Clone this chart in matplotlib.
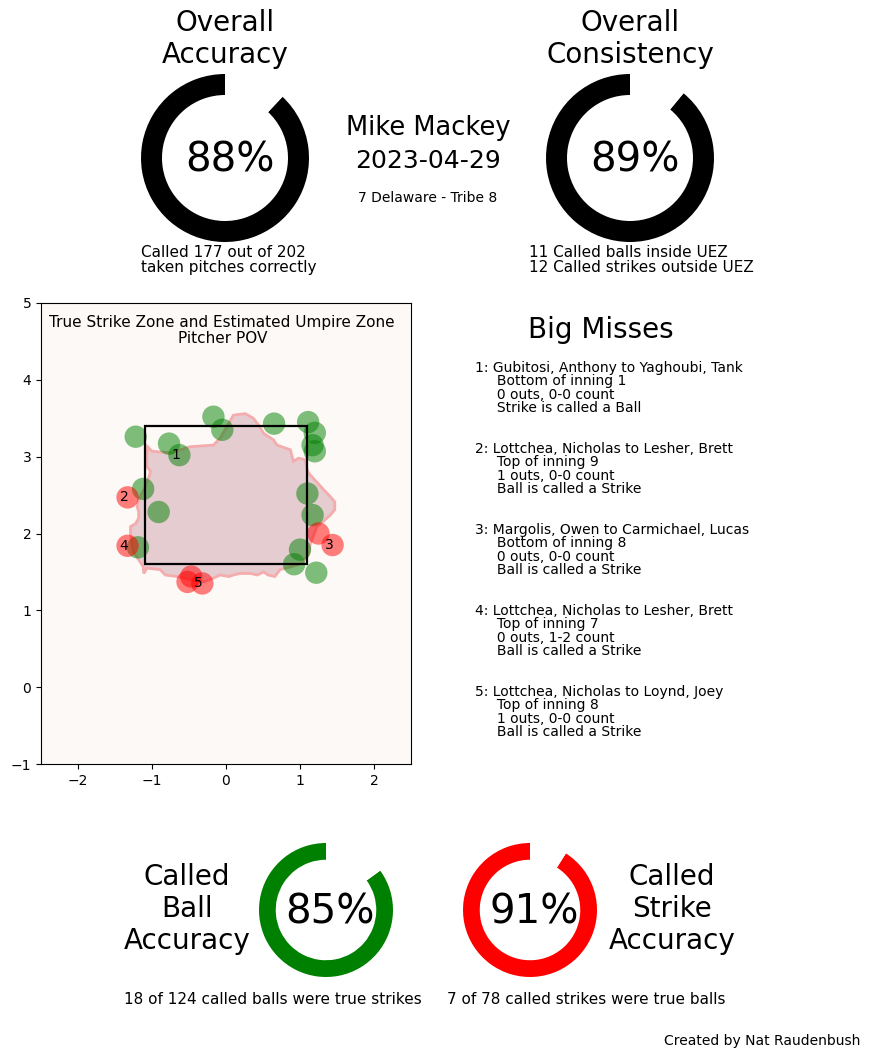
import matplotlib.pyplot as plt
from matplotlib.patches import Rectangle, Polygon

W, H = 869, 1058

# summary numbers
umpire = "Mike Mackey"
game_date = "2023-04-29"
score_line = "7 Delaware - Tribe 8"
overall_acc = 88
overall_cons = 89
ball_acc = 85
strike_acc = 91

# taken pitches that were missed: green = called ball, red = called strike
ball_x = [-0.17, -0.05, 0.65, 1.11, 1.20, 1.17, 1.20, -1.22, -0.77, -0.63,
          -1.12, -0.91, 1.10, 1.17, -1.19, 1.00, 0.92, 1.22]
ball_y = [3.52, 3.35, 3.43, 3.45, 3.31, 3.15, 3.07, 3.26, 3.17, 3.02,
          2.58, 2.28, 2.52, 2.24, 1.82, 1.79, 1.60, 1.49]
strike_x = [-1.33, -1.33, 1.25, 1.44, -0.47, -0.52, -0.32]
strike_y = [2.47, 1.84, 2.00, 1.85, 1.44, 1.37, 1.35]

# big misses (numbered on the plot)
miss_x = [-0.63, -1.33, 1.44, -1.33, -0.32]
miss_y = [3.02, 2.47, 1.85, 1.84, 1.35]
miss_text = [
    "1: Gubitosi, Anthony to Yaghoubi, Tank\n     Bottom of inning 1\n     0 outs, 0-0 count\n     Strike is called a Ball",
    "2: Lottchea, Nicholas to Lesher, Brett\n     Top of inning 9\n     1 outs, 0-0 count\n     Ball is called a Strike",
    "3: Margolis, Owen to Carmichael, Lucas\n     Bottom of inning 8\n     0 outs, 0-0 count\n     Ball is called a Strike",
    "4: Lottchea, Nicholas to Lesher, Brett\n     Top of inning 7\n     0 outs, 1-2 count\n     Ball is called a Strike",
    "5: Lottchea, Nicholas to Loynd, Joey\n     Top of inning 8\n     1 outs, 0-0 count\n     Ball is called a Strike",
]

# estimated umpire zone outline
uez_x = [-1.06, -1.00, -0.75, -0.48, -0.17, -0.08, 0.10, 0.26, 0.37, 0.44,
         0.51, 0.64, 0.69, 0.87, 0.91, 0.98, 1.07, 1.10, 1.14, 1.32,
         1.41, 1.47, 1.47, 1.41, 1.34, 1.23, 1.14, 1.11, 1.02, 0.89,
         0.73, 0.66, 0.57, 0.51, 0.42, 0.33, 0.19, 0.10, 0.04, -0.08,
         -0.17, -0.30, -0.48, -0.66, -0.82, -0.89, -1.07, -1.11, -1.12, -1.18,
         -1.25, -1.29, -1.29, -1.22, -1.18, -1.18, -1.20, -1.18, -1.09, -1.04,
         -1.02, -1.07, -1.07]
uez_y = [3.13, 3.07, 3.05, 3.13, 3.15, 3.24, 3.54, 3.56, 3.50, 3.41,
         3.30, 3.22, 3.15, 3.09, 2.94, 2.98, 2.96, 2.81, 2.76, 2.57,
         2.48, 2.41, 2.31, 2.24, 2.18, 2.09, 1.87, 1.72, 1.61, 1.57,
         1.53, 1.44, 1.46, 1.50, 1.46, 1.48, 1.48, 1.46, 1.44, 1.46,
         1.42, 1.37, 1.40, 1.44, 1.46, 1.53, 1.55, 1.48, 1.57, 1.66,
         1.76, 2.00, 2.09, 2.13, 2.20, 2.28, 2.35, 2.44, 2.61, 2.74,
         2.81, 2.87, 3.00]

# true strike zone
sz_left, sz_right, sz_bot, sz_top = -1.1, 1.1, 1.6, 3.4


def box(x0, y0, x1, y1):
    # pixel box (top-left origin) -> figure fraction rect
    return [x0 / W, 1 - y1 / H, (x1 - x0) / W, (y1 - y0) / H]


def donut(rect, pct, color, size=29):
    ax = fig.add_axes(rect)
    ax.pie([pct, 100 - pct], colors=[color, 'white'], startangle=90,
           counterclock=True, wedgeprops=dict(width=0.25))
    ax.set_xlim(-1, 1)
    ax.set_ylim(-1, 1)
    ax.set_aspect('equal')
    ax.text(0.06, -0.03, f"{pct}%", ha='center', va='center', fontsize=size)
    return ax


fig = plt.figure(figsize=(W / 100, H / 100), dpi=100)

# top row
fig.text(225 / W, 1 - 39 / H, "Overall\nAccuracy", ha='center', va='center', fontsize=20, linespacing=1.2)
donut(box(141, 74, 309, 242), overall_acc, 'black')
fig.text(141 / W, 1 - 260 / H, "Called 177 out of 202\ntaken pitches correctly",
         ha='left', va='center', fontsize=11, linespacing=1.0)

fig.text(428 / W, 1 - 128 / H, umpire, ha='center', va='center', fontsize=18.5)
fig.text(428 / W, 1 - 161 / H, game_date, ha='center', va='center', fontsize=18)
fig.text(428 / W, 1 - 198 / H, score_line, ha='center', va='center', fontsize=10)

fig.text(630 / W, 1 - 39 / H, "Overall\nConsistency", ha='center', va='center', fontsize=20, linespacing=1.2)
donut(box(546, 74, 714, 242), overall_cons, 'black')
fig.text(529 / W, 1 - 260 / H, "11 Called balls inside UEZ\n12 Called strikes outside UEZ",
         ha='left', va='center', fontsize=11, linespacing=1.0)

# strike zone plot
ax = fig.add_axes(box(41, 303, 411, 764))
ax.set_facecolor('#fdf9f6')
ax.add_patch(Polygon(list(zip(uez_x, uez_y)), closed=True, facecolor='#e5ccd1',
                     edgecolor='#f4acac', linewidth=2, zorder=1))
ax.add_patch(Rectangle((sz_left, sz_bot), sz_right - sz_left, sz_top - sz_bot,
                       fill=False, edgecolor='black', linewidth=1.6, zorder=3))
ax.scatter(ball_x, ball_y, s=260, color='green', alpha=0.5, edgecolors='none', zorder=2)
ax.scatter(strike_x, strike_y, s=260, color='red', alpha=0.5, edgecolors='none', zorder=2)
for i, (mx, my) in enumerate(zip(miss_x, miss_y)):
    ax.text(mx - 0.05, my, str(i + 1), ha='center', va='center', fontsize=10, zorder=4)
ax.set_xlim(-2.5, 2.5)
ax.set_ylim(-1, 5)
ax.set_xticks([-2, -1, 0, 1, 2])
ax.set_yticks([-1, 0, 1, 2, 3, 4, 5])
ax.text(-0.05, 4.64, "True Strike Zone and Estimated Umpire Zone\nPitcher POV",
        ha='center', va='center', fontsize=11, linespacing=1.05, multialignment='center')

# big misses list
fig.text(601 / W, 1 - 330 / H, "Big Misses", ha='center', va='center', fontsize=20)
for i, t in enumerate(miss_text):
    fig.text(475 / W, 1 - (361 + i * 81) / H, t, ha='left', va='top', fontsize=10, linespacing=0.95)

# bottom row
fig.text(187 / W, 1 - 909 / H, "Called\nBall\nAccuracy", ha='center', va='center', fontsize=20, linespacing=1.2)
donut(box(259, 843, 393, 977), ball_acc, 'green')
donut(box(463, 843, 597, 977), strike_acc, 'red')
fig.text(672 / W, 1 - 909 / H, "Called\nStrike\nAccuracy", ha='center', va='center', fontsize=20, linespacing=1.2)
fig.text(124 / W, 1 - 1000 / H, "18 of 124 called balls were true strikes",
         ha='left', va='center', fontsize=11)
fig.text(447 / W, 1 - 1000 / H, "7 of 78 called strikes were true balls",
         ha='left', va='center', fontsize=11)
fig.text(860 / W, 1 - 1041 / H, "Created by Nat Raudenbush",
         ha='right', va='center', fontsize=10)

fig.savefig('out.png', dpi=100)
